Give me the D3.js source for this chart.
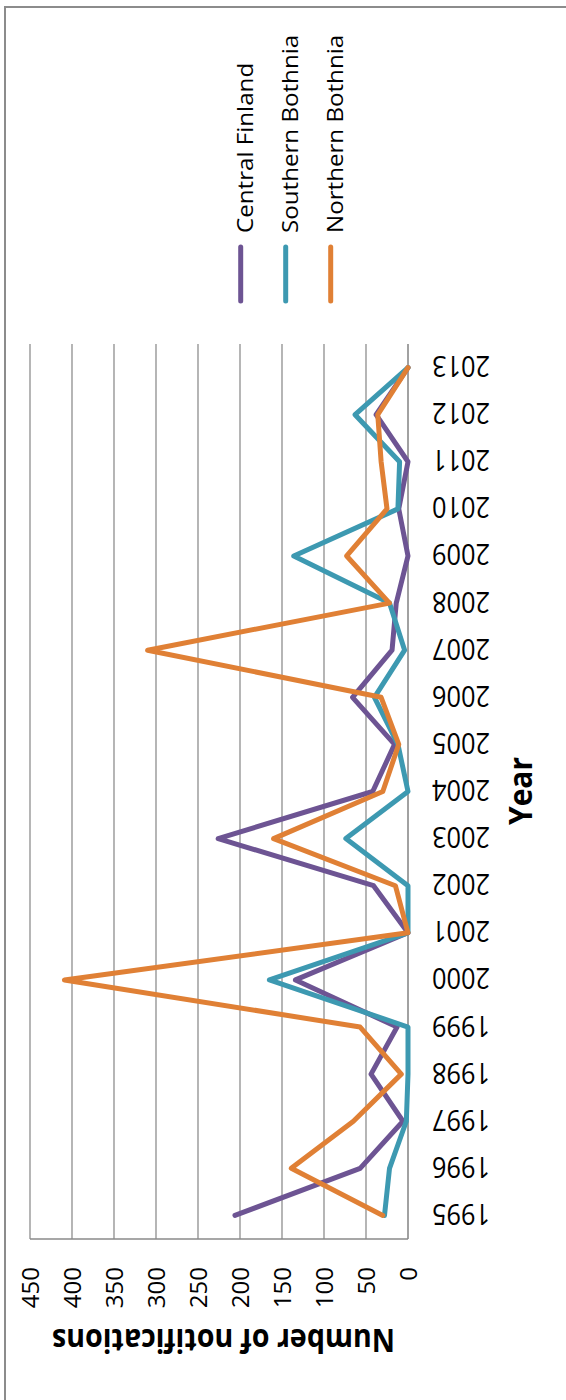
<!DOCTYPE html>
<html>
<head>
<meta charset="utf-8">
<script src="https://cdn.jsdelivr.net/npm/d3@7"></script>
<style>
  html, body { margin: 0; padding: 0; background: #ffffff; }
  svg { display: block; }
  text { font-family: "Open Sans", "DejaVu Sans", sans-serif; fill: #000; }
</style>
</head>
<body>
<div id="chart"></div>
<script>
// ---- data ----
const years = ["1995","1996","1997","1998","1999","2000","2001","2002","2003","2004",
               "2005","2006","2007","2008","2009","2010","2011","2012","2013"];
const centralFinland  = [206, 57, 6, 44, 13, 134, 0, 41, 226, 42, 16, 66, 19, 14, 0, 11, 0, 38, 0];
const southernBothnia = [28, 22, 2, 0, 0, 165, 0, 0, 74, 0, 12, 40, 4, 22, 136, 12, 10, 63, 0];
const northernBothnia = [30, 139, 65, 8, 57, 409, 0, 15, 160, 30, 11, 32, 310, 22, 73, 25, 32, 36, 0];
const seriesNames = ["Central Finland", "Southern Bothnia", "Northern Bothnia"];
const valueTicks = [0, 50, 100, 150, 200, 250, 300, 350, 400, 450];
const valueTitle = "Number of notifications";
const categoryTitle = "Year";

// ---- layout / style ----
const W = 566, H = 1400;
const colors = ["#6D5493", "#3D99B1", "#E08035"];
const series = [centralFinland, southernBothnia, northernBothnia];

const svg = d3.select("#chart").append("svg")
  .attr("width", W).attr("height", H);

svg.append("rect").attr("width", W).attr("height", H).attr("fill", "#fff");

// chart border (left and top edges visible)
svg.append("path")
  .attr("d", `M5,${H} L5,7 L${W},7`)
  .attr("fill", "none").attr("stroke", "#8c8c8c").attr("stroke-width", 2);

// scales (chart is shown rotated: values run right-to-left, years bottom-to-top)
const plotTop = 344, plotBottom = 1239;
const x = d3.scaleLinear().domain([0, 450]).range([408, 30]);
const y = d3.scalePoint().domain(years).range([plotBottom, plotTop]).padding(0.5);

// gridlines
svg.append("g").selectAll("line")
  .data(valueTicks.filter(v => v > 0))
  .join("line")
  .attr("x1", d => x(d)).attr("x2", d => x(d))
  .attr("y1", plotTop).attr("y2", plotBottom)
  .attr("stroke", "#8e8e8e").attr("stroke-width", 1.3);

// axis lines
svg.append("line")
  .attr("x1", x(0)).attr("x2", x(0)).attr("y1", plotTop).attr("y2", plotBottom)
  .attr("stroke", "#8a8a8a").attr("stroke-width", 1.6);
svg.append("line")
  .attr("x1", x(450)).attr("x2", x(0)).attr("y1", plotBottom).attr("y2", plotBottom)
  .attr("stroke", "#8a8a8a").attr("stroke-width", 1.6);

// value tick labels
svg.append("g").selectAll("text")
  .data(valueTicks)
  .join("text")
  .attr("transform", d => `translate(${x(d) - 1},1267) rotate(-90)`)
  .attr("text-anchor", "end")
  .attr("dominant-baseline", "central")
  .attr("font-size", 24)
  .text(d => d);

// year labels (upside down)
svg.append("g").selectAll("text")
  .data(years)
  .join("text")
  .attr("transform", d => `translate(461,${y(d)}) rotate(180)`)
  .attr("text-anchor", "middle")
  .attr("dominant-baseline", "central")
  .attr("font-size", 30)
  .attr("textLength", 58)
  .attr("lengthAdjust", "spacingAndGlyphs")
  .text(d => d);

// axis titles
svg.append("text")
  .attr("transform", "translate(223.5,1329) rotate(180)")
  .attr("text-anchor", "middle")
  .attr("font-size", 32).attr("font-weight", "bold")
  .attr("textLength", 343).attr("lengthAdjust", "spacingAndGlyphs")
  .text(valueTitle);

svg.append("text")
  .attr("transform", "translate(532,791) rotate(-90)")
  .attr("text-anchor", "middle")
  .attr("font-size", 33).attr("font-weight", "bold")
  .attr("textLength", 68).attr("lengthAdjust", "spacingAndGlyphs")
  .text(categoryTitle);

// lines
const line = d3.line()
  .x(d => x(d.v))
  .y(d => y(d.year));

svg.append("g").selectAll("path")
  .data(series.map((s, i) => ({ i, pts: s.map((v, k) => ({ year: years[k], v })) })))
  .join("path")
  .attr("d", d => line(d.pts))
  .attr("fill", "none")
  .attr("stroke", d => colors[d.i])
  .attr("stroke-width", 5)
  .attr("stroke-linejoin", "round")
  .attr("stroke-linecap", "round");

// legend
const legendX0 = 240.7, legendStep = 45;
const leg = svg.append("g").selectAll("g")
  .data(seriesNames)
  .join("g");
leg.append("line")
  .attr("x1", (d, i) => legendX0 + i * legendStep)
  .attr("x2", (d, i) => legendX0 + i * legendStep)
  .attr("y1", 247).attr("y2", 301)
  .attr("stroke", (d, i) => colors[i])
  .attr("stroke-width", 5)
  .attr("stroke-linecap", "round");
leg.append("text")
  .attr("transform", (d, i) => `translate(${legendX0 + i * legendStep + 12.5},233) rotate(-90) scale(1.15,1)`)
  .attr("text-anchor", "start")
  .attr("font-size", 21)
  .text(d => d);
</script>
</body>
</html>
